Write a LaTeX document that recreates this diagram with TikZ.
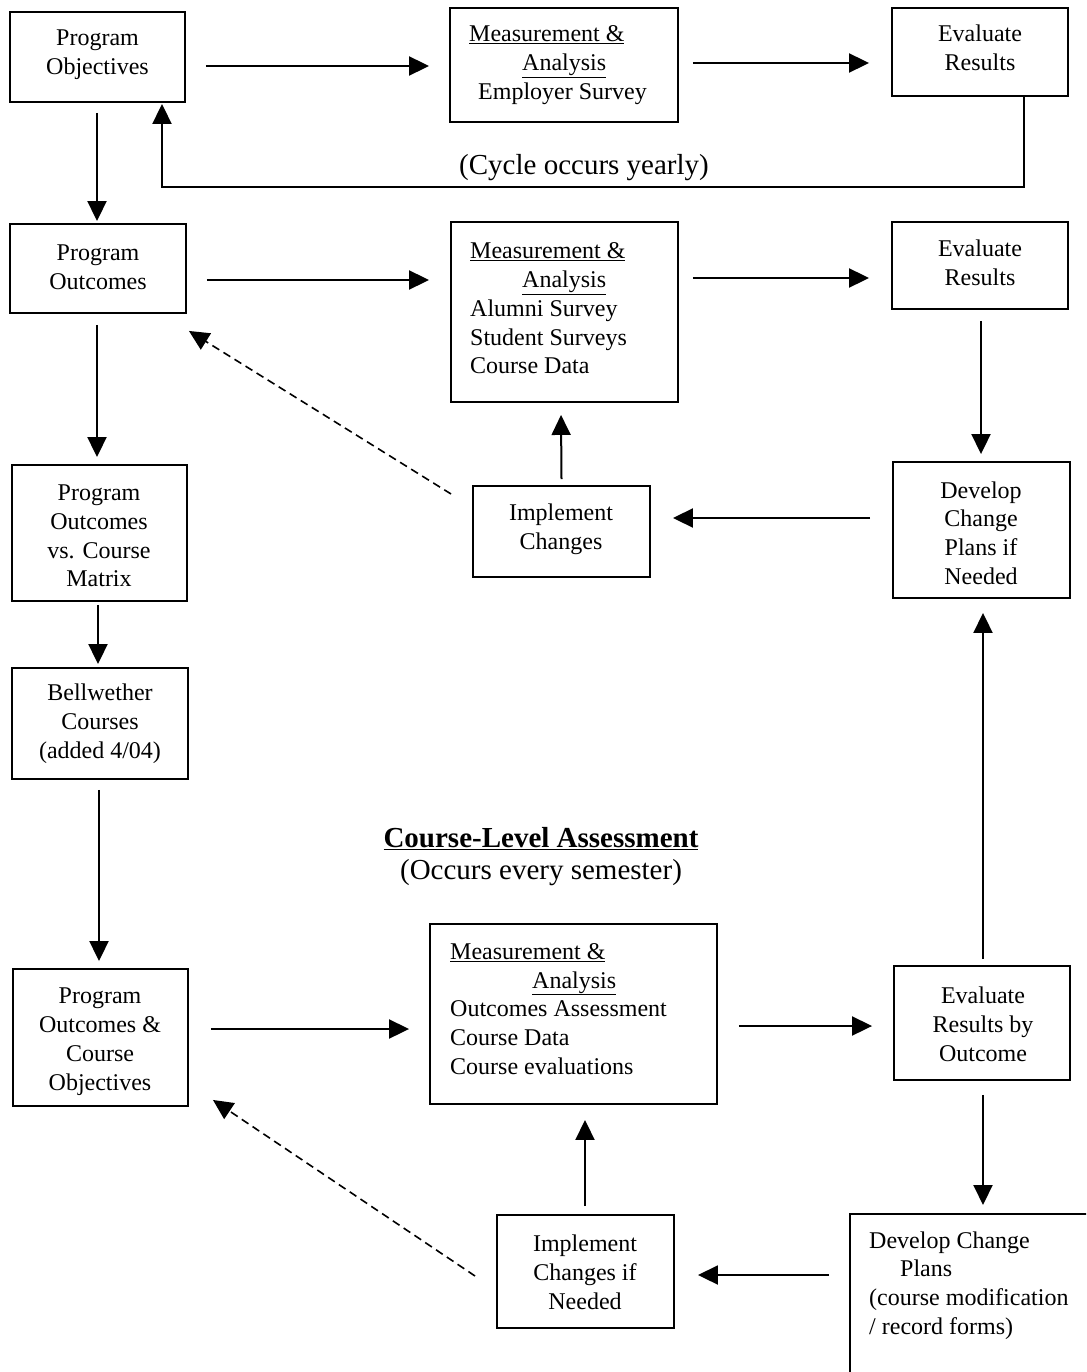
\documentclass[tikz,border=0pt]{standalone}
\usepackage{fontspec}
\setmainfont{Liberation Serif}
\usetikzlibrary{arrows.meta,calc}
\begin{document}
\begin{tikzpicture}[x=1pt,y=-1pt,
  box/.style={draw, line width=1.9pt, inner sep=0pt},
  txt/.style={inner sep=0pt, align=center, font=\fontsize{24}{28.8}\selectfont, yshift=-2.5pt},
  ltxt/.style={inner sep=0pt, align=left, anchor=west, font=\fontsize{24}{28.8}\selectfont, yshift=-2.5pt},
  big/.style={inner sep=0pt, font=\fontsize{29}{34}\selectfont, yshift=-3pt},
  arr/.style={line width=2pt, -{Triangle[length=20pt,width=19pt]}},
  darr/.style={arr, line width=1.6pt, dash pattern=on 8pt off 5pt}]
\useasboundingbox (0,0) rectangle (1086,1372);
\clip (0,0) rectangle (1086,1372);
\fill[white] (0,0) rectangle (1086,1372);

% ---- boxes ----
\node[box, minimum width=175pt, minimum height=90pt] (po) at (97.5,57) {};
\node[txt] (pot) at (97.5,52.5) {Program\\Objectives};

\node[box, minimum width=228pt, minimum height=114pt] (ma1) at (564,65) {};
\node[ltxt] (ma1t) at (469,62.5) {\underline{Measurement \&}\\\hspace*{53pt}\underline{Analysis}\\\hspace*{9pt}Employer Survey};

\node[box, minimum width=176pt, minimum height=88pt] (er1) at (980,52) {};
\node[txt] (er1t) at (980,45.5) {Evaluate\\Results};

\node[box, minimum width=176pt, minimum height=89pt] (pout) at (98,268.5) {};
\node[txt] (poutt) at (98,264.5) {Program\\Outcomes};

\node[box, minimum width=227pt, minimum height=180pt] (ma2) at (564.5,312) {};
\node[ltxt] (ma2t) at (470,306) {\underline{Measurement \&}\\\hspace*{52pt}\underline{Analysis}\\Alumni Survey\\Student Surveys\\Course Data};

\node[box, minimum width=176pt, minimum height=87pt] (er2) at (980,265.5) {};
\node[txt] (er2t) at (980,260.5) {Evaluate\\Results};

\node[box, minimum width=175pt, minimum height=136pt] (pocm) at (99.5,533) {};
\node[txt] (pocmt) at (99,533.5) {Program\\Outcomes\\vs. Course\\Matrix};

\node[box, minimum width=177pt, minimum height=91pt] (impl1) at (561.5,531.5) {};
\node[txt] (impl1t) at (561,526.5) {Implement\\Changes};

\node[box, minimum width=177pt, minimum height=136pt] (dev1) at (981.5,530) {};
\node[txt] (dev1t) at (981,530.5) {Develop\\Change\\Plans if\\Needed};

\node[box, minimum width=176pt, minimum height=111pt] (bell) at (100,723.5) {};
\node[txt] (bellt) at (100,721) {Bellwether\\Courses\\(added 4/04)};

\node[big, font=\bfseries\fontsize{29}{34}\selectfont] (cla) at (541,836) {\underline{Course-Level Assessment}};
\node[big] (clb) at (541,870) {(Occurs every semester)};

\node[box, minimum width=175pt, minimum height=137pt] (pocobj) at (100.5,1037.5) {};
\node[txt] (pocobjt) at (100,1039) {Program\\Outcomes \&\\Course\\Objectives};

\node[box, minimum width=287pt, minimum height=180pt] (ma3) at (573.5,1014) {};
\node[ltxt] (ma3t) at (450,1006.5) {\underline{Measurement \&}\\\hspace*{82pt}\underline{Analysis}\\Outcomes Assessment\\Course Data\\Course evaluations};

\node[box, minimum width=176pt, minimum height=114pt] (er3) at (982,1023) {};
\node[txt] (er3t) at (983,1021.5) {Evaluate\\Results by\\Outcome};

\node[box, minimum width=177pt, minimum height=113pt] (impl2) at (585.5,1271.5) {};
\node[txt] (impl2t) at (585,1269.5) {Implement\\Changes if\\Needed};

\coordinate (dev2c) at (850,1214);
\draw[line width=1.9pt] ($(dev2c)+(0,220)$) -- (dev2c) -- ($(dev2c)+(300,0)$);
\node[ltxt] (dev2t) at (869,1283) {Develop Change\\\hspace*{31pt}Plans\\(course modification\\/ record forms)};

\node[big] (cyc) at (584,165) {(Cycle occurs yearly)};

% ---- connectors ----
\draw[arr] ($(po.east)+(20,9)$) -- ($(ma1.west)+(-20,1)$);
\draw[arr] ($(ma1.east)+(14,-2)$) -- ($(er1.west)+(-22,11)$);
\draw[arr] ($(er1.south)+(44,0)$) |- ($(po.south)+(64.5,84)$) -- ($(po.south)+(64.5,1)$);
\draw[arr] ($(po.south)+(-0.5,10)$) -- ($(pout.north)+(-1,-2)$);

\draw[arr] ($(pout.east)+(20,11.5)$) -- ($(ma2.west)+(-21,-32)$);
\draw[arr] ($(ma2.east)+(14,-34)$) -- ($(er2.west)+(-22,12.5)$);
\draw[arr] ($(pout.south)+(-1,11)$) -- ($(pocm.north)+(-2.5,-7)$);
\draw[arr] ($(er2.south)+(1,11)$) -- ($(dev1.north)+(-0.5,-7)$);
\draw[arr] ($(dev1.west)+(-22,-12)$) -- ($(impl1.east)+(22,-13.5)$);
\draw[arr] ($(impl1.north)+(0,-6)$) -- ($(ma2.south)+(-3.5,12)$);
\draw[darr] ($(impl1.west)+(-21,-37.5)$) -- ($(pout.south east)+(2,17)$);

\draw[arr] ($(pocm.south)+(-1.5,3)$) -- ($(bell.north)+(-2,-3)$);
\draw[arr] ($(bell.south)+(-1,10)$) -- ($(pocobj.north)+(-1.5,-7)$);

\draw[arr] ($(pocobj.east)+(22,-8.5)$) -- ($(ma3.west)+(-20,15)$);
\draw[arr] ($(ma3.east)+(21,12)$) -- ($(er3.west)+(-21,3)$);
\draw[arr] ($(er3.north)+(1,-6)$) -- ($(dev1.south)+(1.5,14)$);
\draw[arr] ($(er3.south)+(1,14)$) -- ($(dev2c)+(133,-9)$);
\draw[arr] ($(dev2c)+(-21,61)$) -- ($(impl2.east)+(23,3.5)$);
\draw[arr] ($(impl2.north)+(-0.5,-8)$) -- ($(ma3.south)+(11.5,15)$);
\draw[darr] ($(impl2.west)+(-21,4.5)$) -- ($(pocobj.south east)+(24,-7)$);
\end{tikzpicture}
\end{document}
